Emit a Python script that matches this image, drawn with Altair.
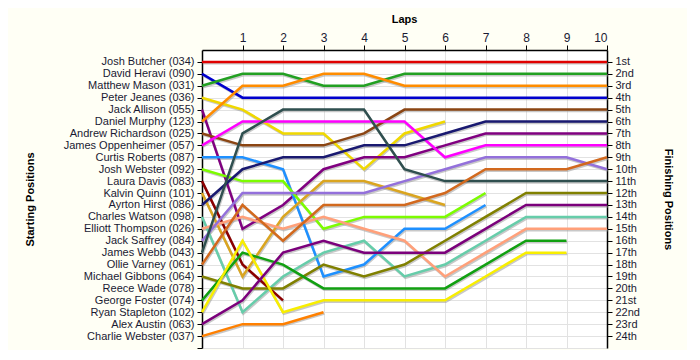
import json
import altair as alt
import pandas as pd

drivers = [
    "Josh Butcher (034)", "David Heravi (090)", "Matthew Mason (031)", "Peter Jeanes (036)",
    "Jack Allison (055)", "Daniel Murphy (123)", "Andrew Richardson (025)", "James Oppenheimer (057)",
    "Curtis Roberts (087)", "Josh Webster (092)", "Laura Davis (083)", "Kalvin Quinn (101)",
    "Ayrton Hirst (086)", "Charles Watson (098)", "Elliott Thompson (026)", "Jack Saffrey (084)",
    "James Webb (043)", "Ollie Varney (061)", "Michael Gibbons (064)", "Reece Wade (078)",
    "George Foster (074)", "Ryan Stapleton (102)", "Alex Austin (063)", "Charlie Webster (037)",
]

colors = [
    "#E00000", "#0000CD", "#22A022", "#F0D800",
    "#800080", "#FF8C00", "#8B4513", "#FF00FF",
    "#1E90FF", "#7CFC00", "#8B0000", "#DAA520",
    "#191970", "#66CDAA", "#FFA07A", "#9370DB",
    "#2F4F4F", "#D2691E", "#808000", "#000000",
    "#11A011", "#F8EE00", "#7B007B", "#FF8000",
]

# position of each driver at lap 0, 1, 2, ... (list ends when the driver retires)
positions = [
    [1, 1, 1, 1, 1, 1, 1, 1, 1, 1, 1],
    [2, 4, 4, 4, 4, 4, 4, 4, 4, 4, 4],
    [3, 2, 2, 3, 3, 2, 2, 2, 2, 2, 2],
    [4, 5, 7, 7, 10, 7, 6],
    [5, 15, 13, 10, 9, 9, 8, 7, 7, 7, 7],
    [6, 3, 3, 2, 2, 3, 3, 3, 3, 3, 3],
    [7, 8, 8, 8, 7, 5, 5, 5, 5, 5, 5],
    [8, 6, 6, 6, 6, 6, 9, 8, 8, 8, 8],
    [9, 9, 10, 19, 18, 15, 15, 13],
    [10, 11, 11, 15, 14, 14, 14, 12],
    [11, 18, 21],
    [12, 19, 14, 11, 11, 12, 13],
    [13, 10, 9, 9, 8, 8, 7, 6, 6, 6, 6],
    [14, 22, 19, 17, 16, 19, 18, 16, 14, 14, 14],
    [15, 14, 15, 14, 15, 16, 19, 17, 15, 15, 15],
    [16, 12, 12, 12, 12, 11, 10, 9, 9, 9, 10],
    [17, 7, 5, 5, 5, 10, 11, 11, 11, 11, 11],
    [18, 13, 16, 13, 13, 13, 12, 10, 10, 10, 9],
    [19, 20, 20, 18, 19, 18, 16, 14, 12, 12, 12],
    [],
    [21, 17, 18, 20, 20, 20, 20, 18, 16, 16],
    [22, 16, 22, 21, 21, 21, 21, 19, 17, 17],
    [23, 21, 17, 16, 17, 17, 17, 15, 13, 13, 13],
    [24, 23, 23, 22],
]

lap_labels = ["1", "2", "3", "4", "5", "6", "7", "8", "9", "10"]
finish_labels = [
    "1st", "2nd", "3rd", "4th", "5th", "6th", "7th", "8th", "9th", "10th", "11th", "12th",
    "13th", "14th", "15th", "16th", "17th", "18th", "19th", "20th", "21st", "22nd", "23rd", "24th",
]

rows = []
for order, (d, ps) in enumerate(zip(drivers, positions)):
    for lap, p in enumerate(ps):
        rows.append({"driver": d, "order": order, "lap": lap, "pos": p})
df = pd.DataFrame(rows)

active = [d for d, ps in zip(drivers, positions) if ps]
active_colors = [c for c, ps in zip(colors, positions) if ps]

FONT = "Liberation Sans"
TXT = "#1A1A33"

xscale = alt.Scale(domain=[0, 10], nice=False, zero=False)
yscale = alt.Scale(domain=[0, 25], reverse=True, nice=False, zero=False)

top_axis = alt.Axis(
    orient="top", values=list(range(1, 11)),
    labelExpr=json.dumps([""] + lap_labels) + "[datum.value]",
    title="Laps", titleFont=FONT, titleFontSize=11, titleFontWeight="bold", titleColor="#000000",
    titleBaseline="alphabetic", titleY=-28, titleX=202,
    labelFont=FONT, labelFontSize=12, labelColor=TXT, labelPadding=1, labelOverlap=False,
    tickSize=5, tickColor="#000000", domainColor="#000000", domainWidth=1.5,
    grid=True, gridColor="#E2E2E2", gridWidth=1,
)

left_axis = alt.Axis(
    orient="left", values=list(range(1, 26)),
    labelExpr=json.dumps([""] + drivers + [""]) + "[datum.value]",
    title="Starting Positions", titleFont=FONT, titleFontSize=11, titleFontWeight="bold",
    titleColor="#000000", titleBaseline="alphabetic", titleX=-169, titleY=149, titleAngle=270,
    labelFont=FONT, labelFontSize=11, labelColor=TXT, labelPadding=3, labelOverlap=False,
    tickSize=5, tickColor="#000000", domainColor="#000000", domainWidth=1.5,
    grid=True, gridColor="#E2E2E2", gridWidth=1,
)

right_axis = alt.Axis(
    orient="right", values=list(range(1, 25)),
    labelExpr=json.dumps([""] + finish_labels) + "[datum.value]",
    title="Finishing Positions", titleFont=FONT, titleFontSize=11, titleFontWeight="bold",
    titleColor="#000000", titleBaseline="alphabetic", titleX=57, titleY=149, titleAngle=90,
    labelFont=FONT, labelFontSize=11, labelColor=TXT, labelPadding=3, labelOverlap=False,
    labelBound=False,
    tickSize=5, tickColor="#000000", domainColor="#000000", domainWidth=1.5,
    grid=False,
)

shadow = alt.Chart(df).transform_calculate(
    sp="datum.pos + 0.12", sl="datum.lap + 0.02"
).mark_line(strokeWidth=2.5, color="#9A9A9A", opacity=0.55, strokeJoin="miter").encode(
    x=alt.X("sl:Q", scale=xscale, axis=top_axis),
    y=alt.Y("sp:Q", scale=yscale, axis=right_axis),
    detail="driver:N",
    order="lap:Q",
)

lines = alt.Chart(df).mark_line(strokeWidth=2.5, strokeJoin="miter").encode(
    x=alt.X("lap:Q", scale=xscale, axis=top_axis),
    y=alt.Y("pos:Q", scale=yscale, axis=left_axis),
    color=alt.Color("driver:N", scale=alt.Scale(domain=active, range=active_colors), legend=None),
    order="lap:Q",
)

chart = alt.layer(shadow, lines).resolve_axis(y="independent").properties(
    width=405, height=298,
    autosize=alt.AutoSizeParams(type="none"),
    padding={"left": 194, "top": 42, "right": 80, "bottom": 2},
    background="#FFFFF5",
).configure_view(fill="#FFFFFF", stroke=None)

chart.save("out.html", embed_options={"renderer": "svg", "actions": False})
